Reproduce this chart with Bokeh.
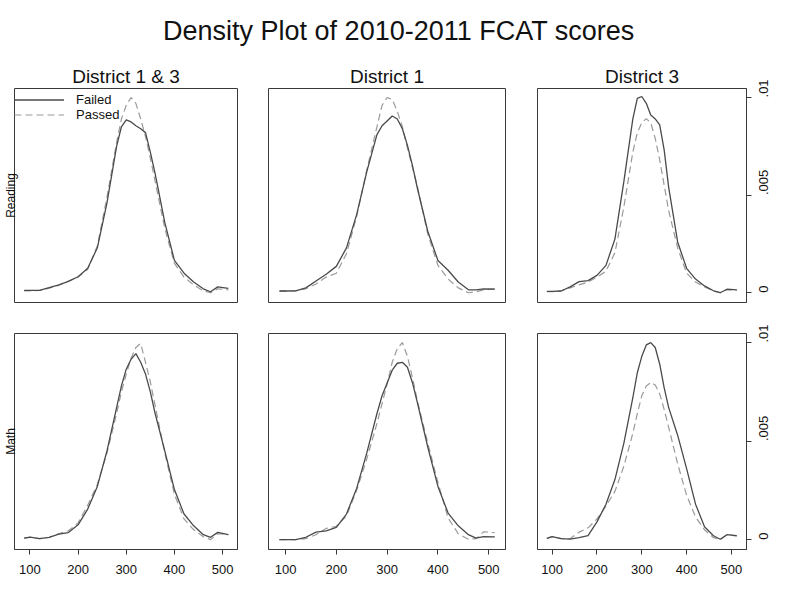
import math
import numpy as np
from bokeh.plotting import figure
from bokeh.models import Range1d, LinearAxis, FixedTicker, Label, Legend, LegendItem
from bokeh.layouts import column, row
from bokeh.embed import file_html
from bokeh.resources import INLINE

FONT = "Liberation Sans"

# ---------------- data (density values in units of 0.001) ----------------
score = [88, 100, 120, 140, 160, 180, 200, 220, 240, 260, 280, 290, 300, 310,
         320, 330, 340, 350, 360, 380, 400, 420, 440, 460, 475, 490, 512]

reading_d13_failed = [0.12, 0.12, 0.12, 0.26, 0.40, 0.58, 0.82, 1.25, 2.3, 4.6, 7.5, 8.5, 8.85, 8.75,
                      8.55, 8.4, 8.2, 7.2, 6.1, 3.6, 1.66, 1.0, 0.55, 0.2, 0.05, 0.3, 0.22]
reading_d13_passed = [0.1, 0.1, 0.12, 0.24, 0.38, 0.6, 0.8, 1.2, 2.4, 4.9, 7.7, 8.9, 9.6, 10.0,
                      9.7, 8.9, 8.0, 6.9, 5.7, 3.3, 1.5, 0.8, 0.4, 0.1, 0.0, 0.2, 0.15]
reading_d1_failed = [0.09, 0.09, 0.1, 0.25, 0.6, 0.95, 1.35, 2.3, 4.0, 6.2, 8.1, 8.55, 8.8, 9.05,
                     8.9, 8.4, 7.55, 6.5, 5.3, 3.15, 1.65, 1.15, 0.55, 0.15, 0.15, 0.2, 0.19]
reading_d1_passed = [0.08, 0.08, 0.1, 0.2, 0.45, 0.8, 1.0, 2.0, 3.9, 6.3, 8.5, 9.6, 10.0, 9.9,
                     9.3, 8.5, 7.4, 6.4, 5.4, 3.0, 1.4, 0.7, 0.25, 0.0, 0.05, 0.15, 0.2]
reading_d3_failed = [0.07, 0.07, 0.09, 0.3, 0.57, 0.62, 0.89, 1.4, 2.75, 5.7, 8.9, 9.95, 10.05, 9.7,
                     9.1, 8.9, 8.6, 7.3, 5.4, 2.6, 1.25, 0.7, 0.35, 0.1, 0.0, 0.18, 0.15]
reading_d3_passed = [0.05, 0.05, 0.1, 0.25, 0.4, 0.55, 0.8, 1.1, 2.05, 4.4, 7.2, 8.2, 8.7, 8.92,
                     8.7, 7.9, 6.8, 5.5, 4.2, 2.3, 1.0, 0.55, 0.3, 0.1, 0.0, 0.15, 0.12]
math_d13_failed = [0.08, 0.13, 0.05, 0.12, 0.28, 0.36, 0.75, 1.55, 2.7, 4.5, 6.7, 7.8, 8.65, 9.15,
                   9.44, 9.0, 8.4, 7.5, 6.4, 4.5, 2.54, 1.3, 0.7, 0.25, 0.12, 0.37, 0.26]
math_d13_passed = [0.08, 0.12, 0.05, 0.12, 0.3, 0.45, 0.85, 1.75, 2.8, 4.4, 6.4, 7.5, 8.4, 9.2,
                   9.75, 9.95, 9.0, 8.0, 6.8, 4.4, 2.3, 1.05, 0.5, 0.15, 0.0, 0.3, 0.25]
math_d1_failed = [0.0, 0.0, 0.0, 0.12, 0.38, 0.44, 0.62, 1.3, 2.6, 4.4, 6.4, 7.3, 7.95, 8.6,
                  8.95, 9.0, 8.75, 7.95, 6.9, 4.7, 2.7, 1.35, 0.7, 0.25, 0.08, 0.15, 0.14]
math_d1_passed = [0.0, 0.0, 0.0, 0.05, 0.25, 0.57, 0.68, 1.2, 2.5, 4.1, 5.9, 6.9, 7.9, 9.0,
                  9.7, 10.0, 9.3, 8.2, 7.0, 4.9, 2.9, 1.1, 0.3, 0.02, 0.05, 0.4, 0.35]
math_d3_failed = [0.06, 0.15, 0.05, 0.03, 0.1, 0.2, 0.9, 1.8, 3.05, 4.9, 7.2, 8.47, 9.3, 9.88,
                  10.0, 9.75, 8.9, 7.7, 6.7, 5.3, 3.6, 1.8, 0.65, 0.2, 0.02, 0.25, 0.2]
math_d3_passed = [0.06, 0.15, 0.05, 0.05, 0.38, 0.6, 1.05, 1.7, 2.45, 3.73, 5.4, 6.4, 7.3, 7.8,
                  7.97, 7.85, 7.4, 6.6, 5.7, 3.85, 2.25, 1.15, 0.5, 0.1, 0.0, 0.25, 0.18]

districts = ["District 1 & 3", "District 1", "District 3"]
subjects = ["Reading", "Math"]
series_names = ["Failed", "Passed"]
x_ticks = [100, 200, 300, 400, 500]
y_ticks = [0, 0.005, 0.01]
y_tick_labels = ["0", ".005", ".01"]
main_title = "Density Plot of 2010-2011 FCAT scores"

data = {
    ("Reading", 0): (reading_d13_failed, reading_d13_passed),
    ("Reading", 1): (reading_d1_failed, reading_d1_passed),
    ("Reading", 2): (reading_d3_failed, reading_d3_passed),
    ("Math", 0): (math_d13_failed, math_d13_passed),
    ("Math", 1): (math_d1_failed, math_d1_passed),
    ("Math", 2): (math_d3_failed, math_d3_passed),
}

# ---------------- layout geometry ----------------
col_w = [253, 268, 279]
col_bl = [14, 15, 16]
col_br = [16, 16, 54]
col_xr = [(68, 531), (66.5, 533), (67.2, 533.7)]
row_h = [260, 286]
row_bt = [30, 15]
row_bb = [16, 55]
y_rng = (-0.0005, 0.01046)

INK = "#3a3a3a"
FAIL_C = "#4a4a4a"
PASS_C = "#9a9a9a"


def style_axis(ax, size="13px"):
    ax.axis_line_color = INK
    ax.major_tick_line_color = INK
    ax.minor_tick_line_color = None
    ax.major_tick_out = 5
    ax.major_tick_in = 0
    ax.major_label_text_font = FONT
    ax.major_label_text_font_size = size
    ax.major_label_text_color = "#111111"


panels = []
for ri, subj in enumerate(subjects):
    rowp = []
    for ci in range(3):
        p = figure(width=col_w[ci], height=row_h[ri],
                   x_range=Range1d(*col_xr[ci]), y_range=Range1d(*y_rng),
                   output_backend="svg", toolbar_location=None, tools="",
                   x_axis_location=None, y_axis_location=None,
                   min_border_left=col_bl[ci], min_border_right=col_br[ci],
                   min_border_top=row_bt[ri], min_border_bottom=row_bb[ri])
        p.grid.grid_line_color = None
        p.outline_line_color = INK
        p.outline_line_width = 1
        p.background_fill_color = "white"
        p.border_fill_color = "white"
        if ri == 0:
            p.title.text = districts[ci]
            p.title.align = "center"
            p.title.text_font = FONT
            p.title.text_font_size = "19px"
            p.title.text_font_style = "normal"
            p.title.text_color = "#111111"
            p.title.standoff = 4
        fail_vals, pass_vals = data[(subj, ci)]
        fy = np.array(fail_vals) * 1e-3
        py = np.array(pass_vals) * 1e-3
        r_pass = p.line(score, py, line_color=PASS_C, line_width=1.2, line_dash="7 4")
        r_fail = p.line(score, fy, line_color=FAIL_C, line_width=1.3)
        if ri == 1:
            xa = LinearAxis(ticker=FixedTicker(ticks=x_ticks))
            style_axis(xa)
            xa.major_label_standoff = 10
            p.add_layout(xa, "below")
        if ci == 2:
            ya = LinearAxis(ticker=FixedTicker(ticks=y_ticks),
                            major_label_overrides={t: l for t, l in zip(y_ticks, y_tick_labels)})
            style_axis(ya)
            ya.major_label_orientation = math.pi / 2
            ya.major_label_standoff = 12
            p.add_layout(ya, "right")
        if ci == 0:
            la = LinearAxis(ticker=FixedTicker(ticks=[]), axis_label=subj)
            la.axis_line_color = None
            la.major_tick_line_color = None
            la.minor_tick_line_color = None
            la.major_tick_out = 0
            la.major_label_standoff = 0
            la.axis_label_standoff = -3
            la.axis_label_text_font = FONT
            la.axis_label_text_font_size = "12px"
            la.axis_label_text_font_style = "normal"
            la.axis_label_text_color = "#111111"
            p.add_layout(la, "left")
        if ri == 0 and ci == 0:
            leg = Legend(items=[LegendItem(label=series_names[0], renderers=[r_fail]),
                                LegendItem(label=series_names[1], renderers=[r_pass])],
                         location=(0, 180), orientation="vertical",
                         margin=0, padding=0, spacing=0,
                         glyph_width=50, glyph_height=15, label_height=15,
                         label_standoff=12, label_text_font=FONT,
                         label_text_font_size="13px", label_text_color="#111111",
                         border_line_color=None, background_fill_alpha=0)
            p.add_layout(leg)
        rowp.append(p)
    panels.append(rowp)

t = figure(width=800, height=58, x_range=Range1d(0, 1), y_range=Range1d(0, 1),
           output_backend="svg", toolbar_location=None, tools="",
           x_axis_location=None, y_axis_location=None, min_border=0)
t.grid.grid_line_color = None
t.outline_line_color = None
t.add_layout(Label(x=0.498, y=0.47, text=main_title, text_align="center",
                   text_baseline="alphabetic", text_font=FONT,
                   text_font_size="27px", text_color="#111111"))

layout = column(t, row(*panels[0], spacing=0), row(*panels[1], spacing=0), spacing=0)

open("out.html", "w").write(file_html(layout, INLINE))
